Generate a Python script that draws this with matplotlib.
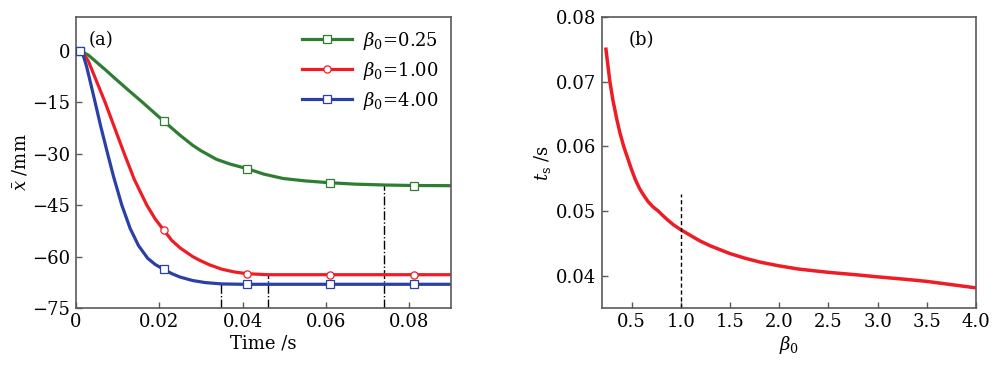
import matplotlib
matplotlib.use("Agg")
import matplotlib.pyplot as plt

plt.rcParams['font.family'] = ['DejaVu Serif']
plt.rcParams['mathtext.fontset'] = 'dejavuserif'
plt.rcParams['font.size'] = 13

# Panel (a) data
t_green = [0.0, 0.0012, 0.003, 0.005, 0.0072, 0.0092, 0.012, 0.016, 0.021, 0.025, 0.028, 0.03, 0.0337, 0.037, 0.041, 0.045, 0.0497, 0.055, 0.061, 0.067, 0.074, 0.081, 0.09]
x_green = [0.0, 0.0, -1.2, -3.3, -5.6, -7.8, -10.8, -15.0, -20.4, -24.6, -27.5, -29.1, -31.6, -33.0, -34.3, -35.9, -37.2, -37.9, -38.45, -38.85, -39.1, -39.25, -39.3]
t_red = [0.0, 0.0012, 0.002, 0.003, 0.0046, 0.007, 0.0093, 0.0116, 0.014, 0.017, 0.019, 0.021, 0.023, 0.025, 0.028, 0.0297, 0.032, 0.035, 0.038, 0.041, 0.046, 0.06, 0.09]
x_red = [0.0, 0.0, -1.0, -3.0, -7.8, -15.0, -22.5, -30.0, -37.5, -45.0, -49.0, -52.2, -55.3, -57.5, -60.0, -61.1, -62.4, -63.7, -64.5, -65.0, -65.3, -65.3, -65.3]
t_blue = [0.0, 0.0012, 0.0018, 0.0025, 0.0032, 0.0046, 0.006, 0.0076, 0.009, 0.011, 0.013, 0.015, 0.0172, 0.019, 0.021, 0.023, 0.025, 0.028, 0.031, 0.035, 0.04, 0.09]
x_blue = [0.0, 0.0, -1.5, -4.3, -7.8, -15.0, -22.3, -30.0, -36.6, -45.0, -51.8, -56.8, -60.5, -62.3, -63.7, -65.0, -66.0, -67.0, -67.6, -68.0, -68.1, -68.1]
t_marks = [0.001, 0.021, 0.041, 0.061, 0.081]
m_green = [0.0, -20.4, -34.3, -38.45, -39.25]
m_red = [0.0, -52.2, -65.0, -65.3, -65.3]
m_blue = [0.0, -63.7, -68.05, -68.1, -68.1]
ts_marks = [0.0348, 0.0460, 0.0739]
ts_levels = [-68.1, -65.3, -39.2]
labels_a = [r'$\beta_0$=0.25', r'$\beta_0$=1.00', r'$\beta_0$=4.00']

# Panel (b) data
beta = [0.24, 0.26, 0.28, 0.31, 0.35, 0.38, 0.42, 0.46, 0.50, 0.54, 0.58, 0.62, 0.67, 0.72, 0.77, 0.81, 0.86, 0.93, 1.0, 1.1, 1.19, 1.3, 1.4, 1.5, 1.65, 1.8, 2.0, 2.2, 2.5, 2.8, 3.0, 3.3, 3.5, 3.8, 4.0]
ts = [0.0750, 0.0725, 0.0700, 0.0672, 0.0642, 0.0622, 0.0600, 0.0582, 0.0564, 0.0548, 0.0535, 0.0525, 0.0514, 0.0506, 0.0500, 0.0494, 0.0487, 0.0478, 0.0471, 0.0462, 0.0454, 0.0446, 0.0440, 0.0434, 0.0427, 0.0421, 0.0415, 0.0410, 0.0405, 0.0401, 0.0398, 0.0394, 0.0391, 0.0385, 0.0381]
beta_mark = 1.0
ts_mark_top = 0.0526

green = '#2e7d32'
red = '#ee1c25'
blue = '#2a3fa8'
spine_c = '#5a5a5a'

fig = plt.figure(figsize=(10, 3.67), dpi=100)
ax1 = fig.add_axes([0.076, 0.161, 0.375, 0.793])
ax2 = fig.add_axes([0.602, 0.161, 0.374, 0.793])

for tt, xx, tm, mm, c, mk, lab in [(t_green, x_green, t_marks, m_green, green, 's', labels_a[0]),
                                   (t_red, x_red, t_marks, m_red, red, 'o', labels_a[1]),
                                   (t_blue, x_blue, t_marks, m_blue, blue, 's', labels_a[2])]:
    ax1.plot(tt, xx, color=c, lw=2.3, zorder=2, solid_joinstyle='round')
    ax1.plot(tm, mm, ls='none', marker=mk, ms=5.2, mfc='white', mec=c, mew=0.9, zorder=3)
    ax1.plot([], [], color=c, lw=2.3, marker=mk, ms=5.2, mfc='white', mec=c, mew=0.9, label=lab)

for xv, yv in zip(ts_marks, ts_levels):
    ax1.plot([xv, xv], [-75, yv], color='black', lw=1.0, ls='-.', zorder=1)

ax1.set_xlim(0, 0.09)
ax1.set_ylim(-75, 10)
ax1.set_xticks([0, 0.02, 0.04, 0.06, 0.08])
ax1.set_xticklabels(['0', '0.02', '0.04', '0.06', '0.08'])
ax1.set_yticks([0, -15, -30, -45, -60, -75])
ax1.set_yticklabels(['0', '\u221215', '\u221230', '\u221245', '\u221260', '\u221275'])
ax1.set_xlabel('Time /s', labelpad=2)
ax1.set_ylabel(r'$\bar{x}$ /mm', labelpad=2)
ax1.text(0.035, 0.95, '(a)', transform=ax1.transAxes, ha='left', va='top')
ax1.legend(loc='upper right', frameon=False, handlelength=2.8, handletextpad=0.6,
           labelspacing=0.45, borderaxespad=0.3, fontsize=13)

ax2.plot(beta, ts, color=red, lw=2.5, solid_joinstyle='round')
ax2.plot([beta_mark, beta_mark], [0.035, ts_mark_top], color='black', lw=1.0, ls=(0, (3, 2)))
ax2.set_xlim(0.2, 4.0)
ax2.set_ylim(0.035, 0.08)
ax2.set_xticks([0.5, 1.0, 1.5, 2.0, 2.5, 3.0, 3.5, 4.0])
ax2.set_xticklabels(['0.5', '1.0', '1.5', '2.0', '2.5', '3.0', '3.5', '4.0'])
ax2.set_yticks([0.04, 0.05, 0.06, 0.07, 0.08])
ax2.set_yticklabels(['0.04', '0.05', '0.06', '0.07', '0.08'])
ax2.set_xlabel(r'$\beta_0$', labelpad=2)
ax2.set_ylabel(r'$t_{\rm s}$ /s', labelpad=2)
ax2.text(0.07, 0.95, '(b)', transform=ax2.transAxes, ha='left', va='top')

for ax in (ax1, ax2):
    for s in ax.spines.values():
        s.set_color(spine_c)
        s.set_linewidth(1.2)
    ax.tick_params(direction='in', length=4, width=1.0, color=spine_c, labelsize=13, pad=4)

fig.savefig('out.png', dpi=100)
